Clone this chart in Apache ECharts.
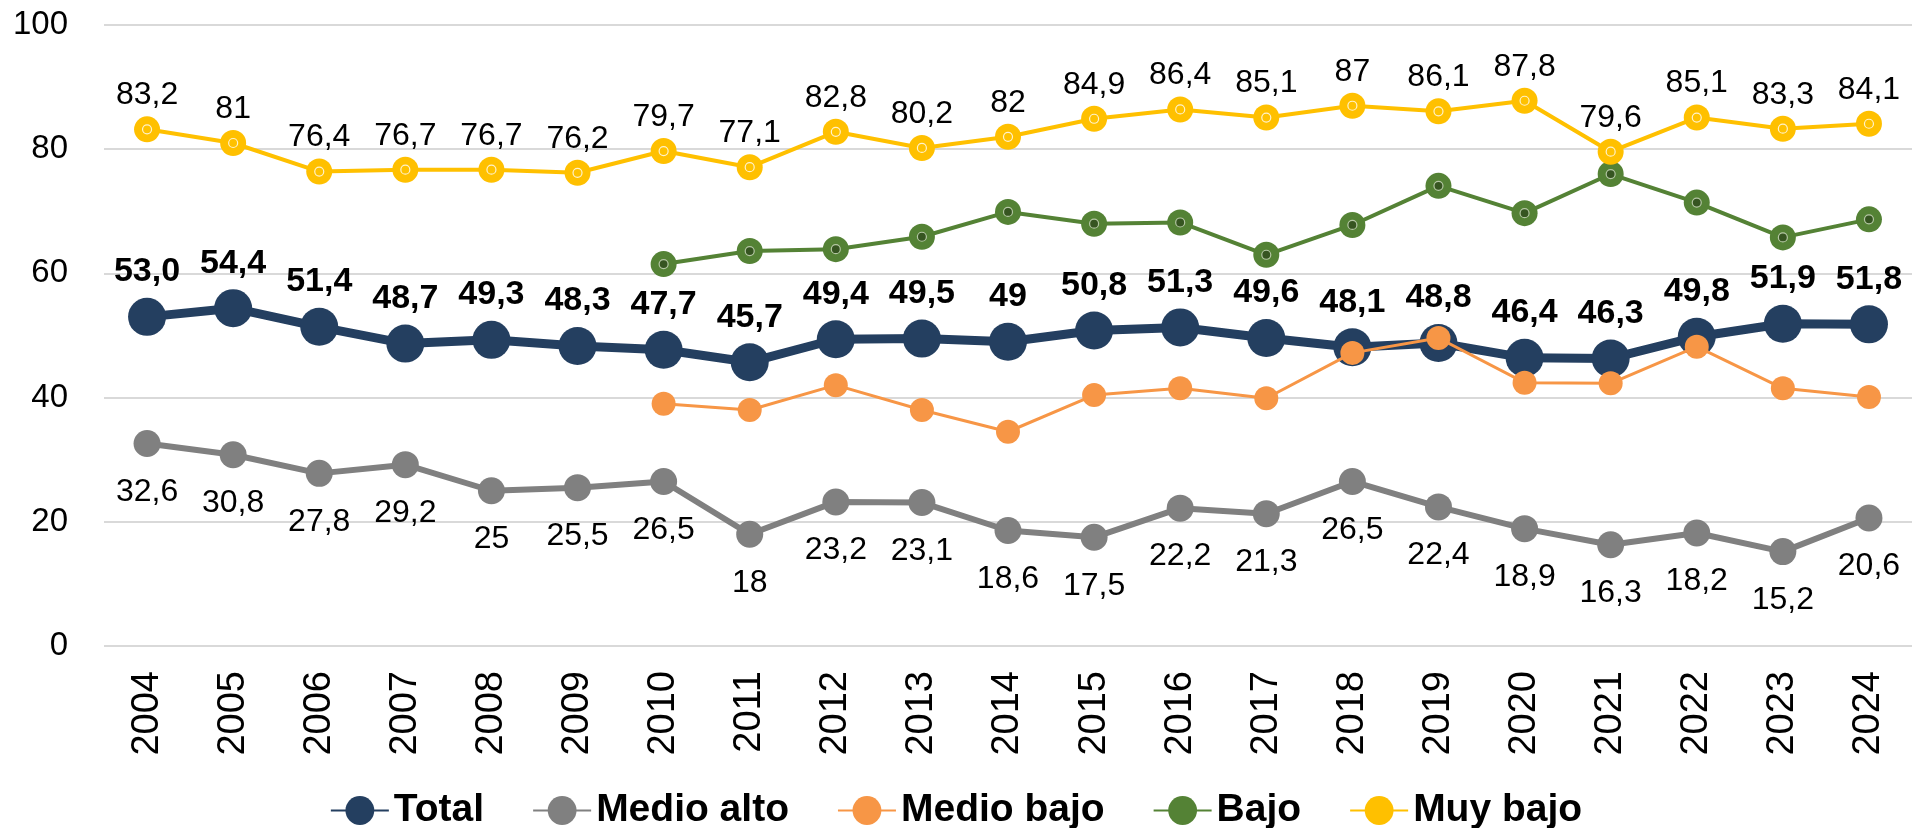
<!DOCTYPE html>
<html>
<head>
<meta charset="utf-8">
<script src="https://cdn.jsdelivr.net/npm/echarts@6/dist/echarts.min.js"></script>
<style>
html,body{margin:0;padding:0;background:#fff;}
#chart{width:1912px;height:828px;}
</style>
</head>
<body>
<div id="chart"></div>
<script>
const years = ['2004','2005','2006','2007','2008','2009','2010','2011','2012','2013','2014','2015','2016','2017','2018','2019','2020','2021','2022','2023','2024'];
const total = [53.0,54.4,51.4,48.7,49.3,48.3,47.7,45.7,49.4,49.5,49,50.8,51.3,49.6,48.1,48.8,46.4,46.3,49.8,51.9,51.8];
const totalLabels = ['53,0','54,4','51,4','48,7','49,3','48,3','47,7','45,7','49,4','49,5','49','50,8','51,3','49,6','48,1','48,8','46,4','46,3','49,8','51,9','51,8'];
const medioAlto = [32.6,30.8,27.8,29.2,25,25.5,26.5,18,23.2,23.1,18.6,17.5,22.2,21.3,26.5,22.4,18.9,16.3,18.2,15.2,20.6];
const medioBajo = [null,null,null,null,null,null,39.0,38.0,42.0,38.0,34.5,40.4,41.5,39.9,47.2,49.6,42.4,42.3,48.2,41.5,40.1];
const bajo = [null,null,null,null,null,null,61.5,63.6,63.9,65.9,69.9,68.0,68.2,63.0,67.8,74.1,69.7,76.0,71.4,65.8,68.7];
const muyBajo = [83.2,81,76.4,76.7,76.7,76.2,79.7,77.1,82.8,80.2,82,84.9,86.4,85.1,87,86.1,87.8,79.6,85.1,83.3,84.1];
const yMin = 0, yMax = 100, yInterval = 20;

const FONT = "'Liberation Sans',Arial,sans-serif";
const comma = v => String(v).replace('.', ',');

const chart = echarts.init(document.getElementById('chart'), null, {renderer:'canvas'});
chart.setOption({
  animation: false,
  backgroundColor: '#fff',
  grid: {left: 104, top: 25, width: 1816, bottom: 182, containLabel: false},
  legend: {
    data: ['Total','Medio alto','Medio bajo','Bajo','Muy bajo'],
    top: 786,
    left: 'center',
    itemWidth: 58,
    itemHeight: 36,
    itemGap: 48,
    textStyle: {fontFamily: FONT, fontWeight: 'bold', fontSize: 39, color: '#000'}
  },
  xAxis: {
    type: 'category',
    data: years,
    boundaryGap: true,
    axisLine: {show: false},
    axisTick: {show: false},
    axisLabel: {rotate: 90, margin: 25, fontFamily: FONT, fontSize: 38, color: '#000'}
  },
  yAxis: {
    type: 'value',
    min: yMin, max: yMax, interval: yInterval,
    axisLine: {show: false},
    axisTick: {show: false},
    splitLine: {lineStyle: {color: '#d9d9d9', width: 2}},
    axisLabel: {margin: 36, fontFamily: FONT, fontSize: 33, color: '#000'}
  },
  series: [
    {
      name: 'Total', type: 'line', data: total,
      symbol: 'circle', symbolSize: 38,
      lineStyle: {color: '#243f60', width: 9},
      itemStyle: {color: '#243f60'},
      label: {show: true, position: 'top', distance: 9, fontFamily: FONT, fontWeight: 'bold', fontSize: 34, color: '#000',
        formatter: p => totalLabels[p.dataIndex]},
      z: 2
    },
    {
      name: 'Medio alto', type: 'line', data: medioAlto,
      symbol: 'circle', symbolSize: 27,
      lineStyle: {color: '#808080', width: 6},
      itemStyle: {color: '#808080'},
      label: {show: true, position: 'bottom', distance: 19, fontFamily: FONT, fontSize: 32, color: '#000',
        formatter: p => comma(p.value)},
      z: 3
    },
    {
      name: 'Medio bajo', type: 'line', data: medioBajo,
      symbol: 'circle', symbolSize: 24,
      lineStyle: {color: '#f79646', width: 3},
      itemStyle: {color: '#f79646'},
      z: 4
    },
    {
      name: 'Bajo', type: 'line', data: bajo,
      symbol: 'circle', symbolSize: 26,
      lineStyle: {color: '#548235', width: 4},
      itemStyle: {color: '#548235'},
      z: 5
    },
    {
      name: 'Muy bajo', type: 'line', data: muyBajo,
      symbol: 'circle', symbolSize: 26,
      lineStyle: {color: '#ffc000', width: 4},
      itemStyle: {color: '#ffc000'},
      label: {show: true, position: 'top', distance: 5, fontFamily: FONT, fontSize: 32, color: '#000',
        formatter: p => comma(p.value)},
      z: 6
    },
    {
      name: 'bajoInner', type: 'scatter', data: bajo, silent: true,
      symbol: 'circle', symbolSize: 9,
      itemStyle: {color: '#2e4a1d', borderColor: '#cfdcc2', borderWidth: 1.2},
      z: 5
    },
    {
      name: 'muyBajoInner', type: 'scatter', data: muyBajo, silent: true,
      symbol: 'circle', symbolSize: 9,
      itemStyle: {color: '#ffc000', borderColor: '#ffffff', borderWidth: 1.2},
      z: 6
    }
  ]
});
</script>
</body>
</html>
